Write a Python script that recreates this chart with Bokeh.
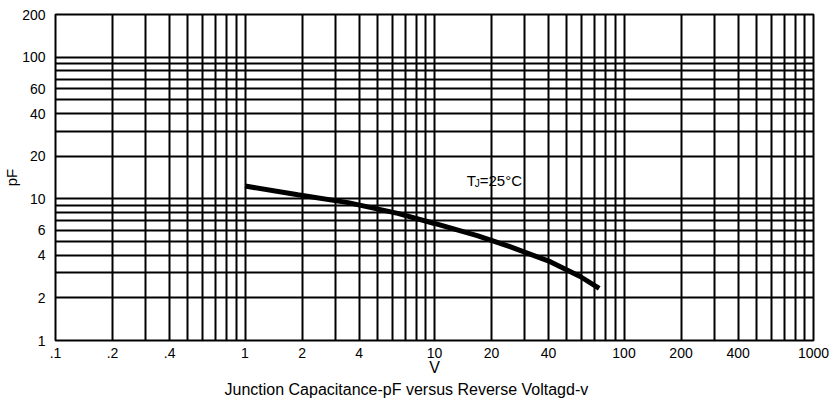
from bokeh.plotting import figure
from bokeh.models import FixedTicker, Label, Title
from bokeh.embed import file_html
from bokeh.resources import INLINE

# ---- data ----
volts = [1, 1.9, 3.5, 6.4, 10, 16.8, 25, 40.8, 58.7, 74]
cap_pf = [12.3, 10.7, 9.4, 7.9, 6.7, 5.5, 4.6, 3.6, 2.83, 2.33]

x_ticks = [0.1, 0.2, 0.4, 1, 2, 4, 10, 20, 40, 100, 200, 400, 1000]
x_tick_labels = [".1", ".2", ".4", "1", "2", "4", "10", "20", "40", "100", "200", "400", "1000"]
y_ticks = [1, 2, 4, 6, 10, 20, 40, 60, 100, 200]
y_tick_labels = ["1", "2", "4", "6", "10", "20", "40", "60", "100", "200"]

x_grid = [m * d for d in (0.1, 1, 10, 100) for m in range(1, 10)] + [1000]
y_grid = [m * d for d in (1, 10) for m in range(1, 10)] + [100, 200]

title_text = "Junction Capacitance-pF versus Reverse Voltagd-v"
annot_main = "T"
annot_sub = "J"
annot_rest = "=25\u00b0C"

FONT = "Liberation Sans"

p = figure(width=836, height=400, x_axis_type="log", y_axis_type="log",
           x_range=(0.1, 1000), y_range=(1, 200),
           output_backend="svg", toolbar_location=None,
           min_border_left=54, min_border_right=23, min_border_top=14, min_border_bottom=60)

p.background_fill_color = "white"
p.border_fill_color = "white"
p.outline_line_color = "black"
p.outline_line_width = 2

# grids
p.xgrid.ticker = FixedTicker(ticks=x_grid)
p.ygrid.ticker = FixedTicker(ticks=y_grid)
for g in (p.xgrid, p.ygrid):
    g.grid_line_color = "black"
    g.grid_line_width = 2
    g.grid_line_alpha = 1.0

# axes
p.xaxis.ticker = FixedTicker(ticks=x_ticks)
p.yaxis.ticker = FixedTicker(ticks=y_ticks)
p.xaxis.major_label_overrides = {float(t): l for t, l in zip(x_ticks, x_tick_labels)}
p.yaxis.major_label_overrides = {float(t): l for t, l in zip(y_ticks, y_tick_labels)}
for ax in (p.xaxis, p.yaxis):
    ax.axis_line_color = None
    ax.major_tick_line_color = None
    ax.minor_tick_line_color = None
    ax.major_label_text_font = FONT
    ax.major_label_text_font_size = "14px"
    ax.major_label_text_color = "black"
    ax.axis_label_text_font = FONT
    ax.axis_label_text_font_style = "normal"
    ax.axis_label_text_color = "black"

p.xaxis.axis_label = "V"
p.xaxis.axis_label_text_font_size = "16px"
p.xaxis.major_label_standoff = 1
p.xaxis.axis_label_standoff = -2

p.yaxis.axis_label = "pF"
p.yaxis.axis_label_text_font_size = "15px"
p.yaxis.major_label_standoff = 4
p.yaxis.axis_label_standoff = -1

# caption below
cap = Title(text=title_text, align="left", offset=169, standoff=0,
            text_font=FONT, text_font_size="16px", text_font_style="normal",
            text_color="black")
p.add_layout(cap, "below")

# curve
p.line(volts, cap_pf, line_color="black", line_width=5)

# annotation T_J=25°C
ax_, ay_ = 14.8, 13.5
p.add_layout(Label(x=ax_, y=ay_, text=annot_main, text_font=FONT, text_font_size="15px",
                   text_color="black", text_baseline="alphabetic"))
p.add_layout(Label(x=ax_, y=ay_, x_offset=8, y_offset=-3, text=annot_sub, text_font=FONT,
                   text_font_size="10px", text_color="black", text_baseline="alphabetic"))
p.add_layout(Label(x=ax_, y=ay_, x_offset=13, text=annot_rest, text_font=FONT,
                   text_font_size="15px", text_color="black", text_baseline="alphabetic"))

open("out.html", "w").write(file_html(p, INLINE))
